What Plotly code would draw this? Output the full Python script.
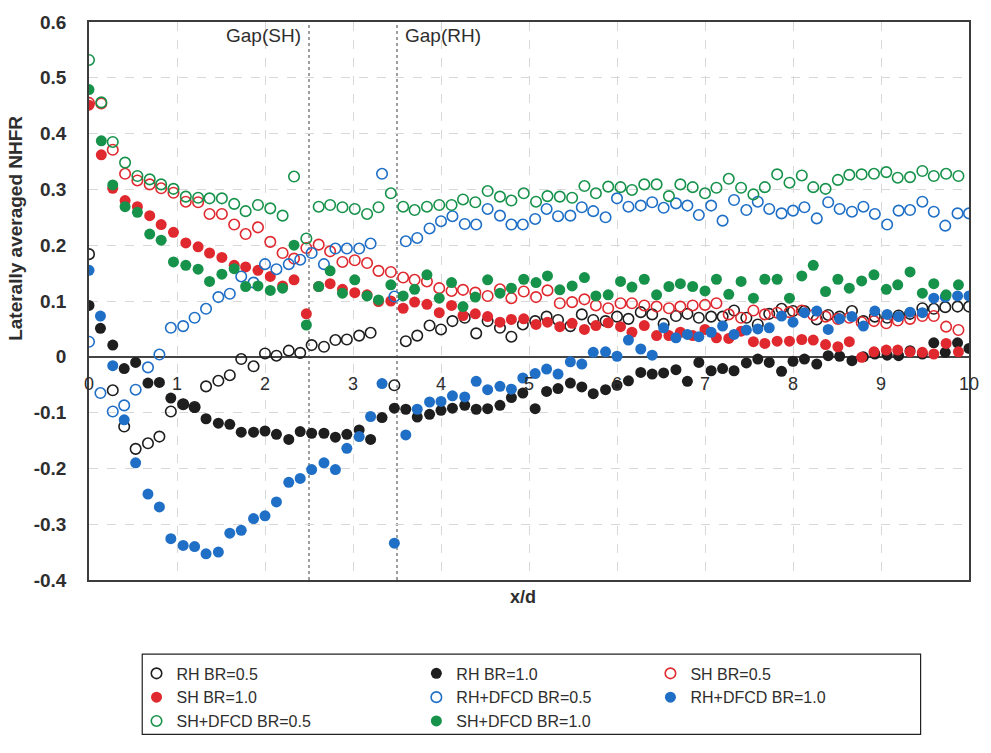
import plotly.graph_objects as go

# Streamwise stations (x/d) for the round-hole and shaped-hole cases
x_rh = [0, 0.13, 0.27, 0.40, 0.53, 0.67, 0.80, 0.93, 1.07, 1.20, 1.33, 1.47, 1.60, 1.73, 1.87, 2.00,
        2.13, 2.27, 2.40, 2.53, 2.67, 2.80, 2.93, 3.07, 3.20, 3.33, 3.47, 3.60, 3.73, 3.87, 4.00, 4.13,
        4.27, 4.40, 4.53, 4.67, 4.80, 4.93, 5.07, 5.20, 5.33, 5.47, 5.60, 5.73, 5.87, 6.00, 6.13, 6.27,
        6.40, 6.53, 6.67, 6.80, 6.93, 7.07, 7.20, 7.33, 7.47, 7.60, 7.73, 7.87, 8.00, 8.13, 8.27, 8.40,
        8.53, 8.67, 8.80, 8.93, 9.07, 9.20, 9.33, 9.47, 9.60, 9.73, 9.87, 10.00]
x_sh = [0, 0.14, 0.27, 0.41, 0.55, 0.69, 0.82, 0.96, 1.10, 1.24, 1.37, 1.51, 1.65, 1.78, 1.92, 2.06,
        2.20, 2.33, 2.47, 2.61, 2.74, 2.88, 3.02, 3.16, 3.29, 3.43, 3.57, 3.70, 3.84, 3.98, 4.12, 4.25,
        4.39, 4.53, 4.67, 4.80, 4.94, 5.08, 5.21, 5.35, 5.49, 5.63, 5.76, 5.90, 6.04, 6.17, 6.31, 6.45,
        6.59, 6.72, 6.86, 7.00, 7.13, 7.27, 7.41, 7.55, 7.68, 7.82, 7.96, 8.10, 8.23, 8.37, 8.51, 8.64,
        8.78, 8.92, 9.06, 9.19, 9.33, 9.47, 9.60, 9.74, 9.88]

# Laterally averaged NHFR
rh_br05 = [0.184, None, -0.060, -0.125, -0.165, -0.155, -0.143, -0.098, -0.085, -0.090,
           -0.053, -0.043, -0.033, -0.004, -0.017, 0.006, 0.002, 0.011, 0.007, 0.021,
           0.018, 0.030, 0.031, 0.038, 0.043, None, -0.051, 0.028, 0.038, 0.056,
           0.049, 0.064, 0.070, 0.042, 0.064, 0.052, 0.036, 0.058, 0.064, 0.072,
           0.066, 0.055, 0.076, 0.066, 0.064, 0.072, 0.068, 0.080, 0.076, 0.059,
           0.073, 0.077, 0.070, 0.072, 0.072, 0.083, 0.070, 0.058, 0.077, 0.086,
           0.082, 0.082, 0.067, 0.075, 0.072, 0.082, 0.064, 0.072, 0.070, 0.074,
           0.077, 0.087, 0.086, 0.089, 0.090, 0.090]
rh_br10 = [0.092, 0.051, 0.021, -0.021, -0.010, -0.047, -0.046, -0.074, -0.085, -0.091,
           -0.111, -0.119, -0.121, -0.135, -0.135, -0.133, -0.139, -0.148, -0.134, -0.137,
           -0.137, -0.144, -0.139, -0.131, -0.148, -0.109, -0.092, -0.094, -0.108, -0.103,
           -0.096, -0.092, -0.087, -0.094, -0.093, -0.087, -0.073, -0.065, -0.093, -0.062,
           -0.057, -0.047, -0.054, -0.066, -0.059, -0.051, -0.043, -0.028, -0.031, -0.029,
           -0.023, -0.044, -0.010, -0.025, -0.021, -0.025, -0.011, -0.004, -0.010, -0.026,
           -0.008, -0.004, -0.013, 0.002, 0.001, -0.007, 0.000, 0.005, 0.003, 0.002,
           0.011, 0.005, 0.025, 0.008, 0.025, 0.015]
sh_br05 = [0.455, 0.454, 0.371, 0.328, 0.316, 0.309, 0.302, 0.294, 0.278, 0.277,
           0.256, 0.256, 0.237, 0.220, 0.232, 0.206, 0.186, 0.176, 0.195, 0.201,
           0.189, 0.170, 0.173, 0.168, 0.154, 0.152, 0.142, 0.138, 0.135, 0.123,
           0.118, 0.120, 0.115, 0.109, 0.121, 0.105, 0.117, 0.107, 0.119, 0.096,
           0.098, 0.103, 0.092, 0.087, 0.096, 0.096, 0.092, 0.090, 0.087, 0.090,
           0.092, 0.093, 0.096, 0.076, 0.070, 0.083, 0.076, 0.079, 0.080, 0.083,
           0.075, 0.072, 0.068, 0.070, 0.062, 0.064, 0.060, 0.065, 0.068, 0.073,
           0.073, 0.054, 0.048]
sh_br10 = [0.451, 0.362, 0.302, 0.280, 0.269, 0.253, 0.237, 0.223, 0.204, 0.197,
           0.186, 0.178, 0.164, 0.161, 0.155, 0.144, 0.127, 0.138, 0.077, 0.126,
           0.131, 0.121, 0.115, 0.111, 0.099, 0.100, 0.087, 0.098, 0.094, 0.079,
           0.092, 0.074, 0.077, 0.072, 0.062, 0.067, 0.068, 0.058, 0.062, 0.054,
           0.060, 0.049, 0.056, 0.061, 0.054, 0.044, 0.056, 0.038, 0.038, 0.044,
           0.038, 0.049, 0.034, 0.033, 0.046, 0.027, 0.024, 0.028, 0.028, 0.031,
           0.030, 0.022, 0.018, 0.027, -0.001, 0.009, 0.012, 0.012, 0.009, 0.008,
           0.005, 0.024, 0.009]
rhd_br05 = [0.027, -0.065, -0.098, -0.087, -0.059, -0.019, 0.004, 0.052, 0.055, 0.070,
            0.086, 0.107, 0.113, 0.144, 0.133, 0.166, 0.157, 0.166, 0.174, 0.186,
            0.166, 0.194, 0.194, 0.194, 0.203, 0.328, 0.108, 0.207, 0.213, 0.230,
            0.243, 0.252, 0.238, 0.237, 0.265, 0.253, 0.237, 0.237, 0.247, 0.265,
            0.252, 0.253, 0.268, 0.261, 0.250, 0.284, 0.269, 0.271, 0.277, 0.267,
            0.275, 0.271, 0.254, 0.271, 0.244, 0.281, 0.263, 0.278, 0.265, 0.257,
            0.262, 0.268, 0.248, 0.277, 0.265, 0.260, 0.269, 0.256, 0.237, 0.262,
            0.263, 0.278, 0.260, 0.235, 0.257, 0.257]
rhd_br10 = [0.155, 0.073, -0.016, -0.113, -0.190, -0.246, -0.269, -0.326, -0.338, -0.340,
            -0.353, -0.350, -0.316, -0.311, -0.290, -0.285, -0.260, -0.225, -0.218, -0.202,
            -0.190, -0.202, -0.164, -0.143, -0.107, -0.048, -0.334, -0.140, -0.094, -0.081,
            -0.080, -0.070, -0.072, -0.044, -0.059, -0.053, -0.058, -0.038, -0.030, -0.022,
            -0.031, -0.009, -0.013, 0.008, 0.009, 0.001, 0.030, 0.014, 0.003, 0.052,
            0.034, 0.040, 0.036, 0.044, 0.055, 0.040, 0.048, 0.050, 0.052, 0.073,
            0.062, 0.079, 0.082, 0.049, 0.068, 0.072, 0.055, 0.082, 0.076, 0.072,
            0.080, 0.079, 0.105, 0.107, 0.109, 0.109]
shd_br05 = [0.532, 0.456, 0.385, 0.348, 0.324, 0.318, 0.309, 0.301, 0.287, 0.285,
            0.284, 0.284, 0.274, 0.261, 0.272, 0.266, 0.253, 0.323, 0.212, 0.269,
            0.272, 0.268, 0.265, 0.256, 0.268, 0.293, 0.269, 0.263, 0.269, 0.272,
            0.272, 0.282, 0.277, 0.297, 0.287, 0.280, 0.293, 0.278, 0.288, 0.287,
            0.285, 0.306, 0.293, 0.305, 0.304, 0.299, 0.309, 0.309, 0.288, 0.309,
            0.304, 0.293, 0.303, 0.319, 0.303, 0.291, 0.304, 0.327, 0.312, 0.325,
            0.304, 0.301, 0.317, 0.326, 0.327, 0.328, 0.331, 0.321, 0.322, 0.333,
            0.324, 0.328, 0.324]
shd_br10 = [0.479, 0.387, 0.308, 0.269, 0.259, 0.220, 0.209, 0.170, 0.164, 0.157,
            0.135, 0.148, 0.158, 0.126, 0.127, 0.119, 0.123, 0.200, 0.057, 0.126,
            0.154, 0.114, 0.138, 0.109, 0.102, 0.129, 0.109, 0.121, 0.147, 0.105,
            0.133, 0.090, 0.107, 0.138, 0.114, 0.123, 0.139, 0.133, 0.145, 0.120,
            0.127, 0.142, 0.109, 0.111, 0.135, 0.125, 0.139, 0.111, 0.126, 0.131,
            0.126, 0.118, 0.139, 0.112, 0.135, 0.105, 0.139, 0.139, 0.105, 0.145,
            0.164, 0.117, 0.139, 0.123, 0.136, 0.147, 0.121, 0.129, 0.152, 0.114,
            0.131, 0.111, 0.129]

x_ticks = [0, 1, 2, 3, 4, 5, 6, 7, 8, 9, 10]
x_tick_text = ["0", "1", "2", "3", "4", "5", "6", "7", "8", "9", "10"]
y_ticks = [-0.4, -0.3, -0.2, -0.1, 0, 0.1, 0.2, 0.3, 0.4, 0.5, 0.6]
y_tick_text = ["-0.4", "-0.3", "-0.2", "-0.1", "0", "0.1", "0.2", "0.3", "0.4", "0.5", "0.6"]
gap_x = [2.5, 3.5]
gap_text = ["Gap(SH)", "Gap(RH)"]

BLACK = "#1e1e1e"
RED = "#e0292f"
BLUE = "#1f6fc6"
GREEN = "#17924b"
FONT = "Liberation Sans"
TEXT = "#2e2e2e"

series = [
    ("RH BR=0.5", x_rh, rh_br05, BLACK, True),
    ("RH BR=1.0", x_rh, rh_br10, BLACK, False),
    ("SH BR=0.5", x_sh, sh_br05, RED, True),
    ("SH BR=1.0", x_sh, sh_br10, RED, False),
    ("RH+DFCD BR=0.5", x_rh, rhd_br05, BLUE, True),
    ("RH+DFCD BR=1.0", x_rh, rhd_br10, BLUE, False),
    ("SH+DFCD BR=0.5", x_sh, shd_br05, GREEN, True),
    ("SH+DFCD BR=1.0", x_sh, shd_br10, GREEN, False),
]
legend_ids = ["legend", "legend2", "legend3"]

fig = go.Figure()
for k, (name, xs, ys, color, hollow) in enumerate(series):
    if hollow:
        marker = dict(symbol="circle-open", size=10.5, color=color, line=dict(width=1.6, color=color))
    else:
        marker = dict(symbol="circle", size=11, color=color, line=dict(width=0))
    fig.add_trace(go.Scatter(
        x=xs, y=ys, mode="markers", name=name, marker=marker,
        legend=legend_ids[k % 3],
        # last series sits on the overlaid axis that carries the x tick labels at y=0
        xaxis="x2" if k == len(series) - 1 else "x",
    ))

grid = dict(showgrid=True, gridcolor="#d8d8d8", griddash="dash", gridwidth=1)
axis_line = dict(showline=True, linecolor="#3c3c3c", linewidth=1.6, mirror=True)

fig.update_layout(
    width=991, height=753,
    margin=dict(l=89, r=14, t=16, b=173),
    paper_bgcolor="white", plot_bgcolor="white",
    font=dict(family=FONT, color=TEXT),
    xaxis=dict(range=[0, 10], tickvals=x_ticks, showticklabels=False, ticks="",
               zeroline=False, **grid, **axis_line),
    xaxis2=dict(range=[0, 10], overlaying="x", anchor="free", position=0.4, side="bottom",
                tickvals=x_ticks, ticktext=x_tick_text, ticks="", showgrid=False,
                showline=False, zeroline=False, ticklabelstandoff=14,
                tickfont=dict(size=18, color=TEXT)),
    yaxis=dict(range=[-0.4, 0.6], tickvals=y_ticks, ticktext=y_tick_text, ticks="",
               zeroline=True, zerolinecolor="#444444", zerolinewidth=1.6,
               ticklabelstandoff=17, tickfont=dict(size=19, color=TEXT, weight="bold"),
               **grid, **axis_line),
    showlegend=True,
)

# axis titles
fig.add_annotation(x=-0.083, y=0.631, xref="paper", yref="paper", text="<b>Laterally averaged NHFR</b>",
                   textangle=-90, showarrow=False, xanchor="center", yanchor="middle",
                   font=dict(size=19, color=TEXT, family=FONT))
fig.add_annotation(x=0.493, y=-0.031, xref="paper", yref="paper", text="<b>x/d</b>",
                   showarrow=False, xanchor="center", yanchor="middle",
                   font=dict(size=18, color=TEXT, family=FONT))

legend_common = dict(orientation="v", xanchor="left", yanchor="top", y=-0.137,
                     bgcolor="rgba(0,0,0,0)", font=dict(size=16, color=TEXT),
                     itemclick=False, tracegroupgap=0)
fig.update_layout(
    legend=dict(x=0.054, **legend_common),
    legend2=dict(x=0.372, **legend_common),
    legend3=dict(x=0.638, **legend_common),
)

# frame around the three legend columns
fig.add_shape(type="rect", xref="paper", yref="paper", x0=0.0605, x1=0.945, y0=-0.2766, y1=-0.133,
              line=dict(color="#222222", width=1.2), fillcolor="rgba(0,0,0,0)")

# film-hole gap markers
for gx, label, side in zip(gap_x, gap_text, ["right", "left"]):
    fig.add_shape(type="line", xref="x", yref="paper", x0=gx, x1=gx, y0=0, y1=1,
                  line=dict(color="#6a6a6a", width=1.3, dash="dot"), layer="below")
    fig.add_annotation(x=gx, y=0.975, xref="x", yref="paper", text=label, showarrow=False,
                       xanchor=side, yanchor="middle", xshift=-6 if side == "right" else 6,
                       font=dict(size=19, color=TEXT, family=FONT))

fig.write_html("out.html")
